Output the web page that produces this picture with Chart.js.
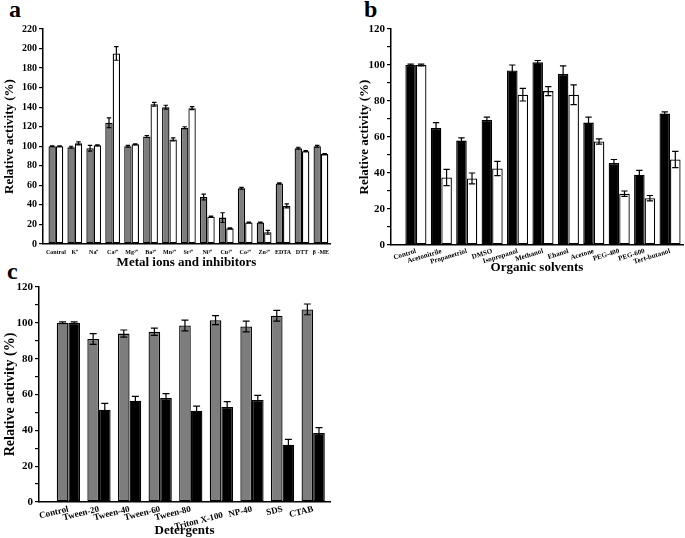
<!DOCTYPE html>
<html>
<head>
<meta charset="utf-8">
<script src="https://cdn.jsdelivr.net/npm/chart.js@4.4.0/dist/chart.umd.min.js"></script>
<style>
  body { margin:0; background:#fff; width:685px; height:538px; position:relative; overflow:hidden; font-family:"Liberation Serif", serif; }
  canvas { position:absolute; }
  .tag { position:absolute; font-weight:bold; font-size:24px; line-height:1; color:#000; }
</style>
</head>
<body>
<div class="tag" style="left:9px;top:-3px">a</div>
<div class="tag" style="left:364px;top:-3px">b</div>
<div class="tag" style="left:7px;top:259px">c</div>
<canvas id="chartA" width="340" height="270" style="left:0;top:0"></canvas>
<canvas id="chartB" width="345" height="275" style="left:340px;top:0"></canvas>
<canvas id="chartC" width="340" height="276" style="left:0;top:262px"></canvas>
<script>
// panel a - metal ions and inhibitors
const metalLabels = ['Control', 'K\u207A', 'Na\u207A', 'Ca\u00B2\u207A', 'Mg\u00B2\u207A', 'Ba\u00B2\u207A', 'Mn\u00B2\u207A', 'Sr\u00B2\u207A',
  'Ni\u00B2\u207A', 'Cu\u00B2\u207A', 'Co\u00B2\u207A', 'Zn\u00B2\u207A', 'EDTA', 'DTT', '\u03B2 -ME'];
const metalGray = [100, 99, 98, 124, 100, 110, 140, 119, 48, 27, 57, 22, 62, 98, 100];
const metalGrayErr = [0.5, 1, 3, 5, 1, 1, 2, 1, 3, 5, 1, 0.5, 0.5, 1, 1];
const metalWhite = [100, 103, 101, 195, 102, 143, 107, 139, 28, 16, 22, 12, 39, 95, 92];
const metalWhiteErr = [0.5, 1.5, 0.5, 7, 0.5, 2, 1.5, 1.5, 0.5, 0.5, 0.5, 2, 2, 0.5, 0.5];

// panel b - organic solvents
const solventLabels = ['Control', 'Acetonitrile', 'Propanetriol', 'DMSO', 'Isopropanol', 'Methanol', 'Ehanol',
  'Acetone', 'PEG-400', 'PEG-600', 'Tert-butanol'];
const solventBlack = [100, 65, 58, 69.5, 97, 101.5, 95, 68, 45.5, 39, 73];
const solventBlackErr = [0.5, 3, 1.5, 1.5, 3, 1, 4.5, 3, 2, 2.5, 1];
const solventWhite = [100, 37.5, 37, 42.5, 83.5, 85.5, 83.5, 57.5, 28.5, 26, 47.5];
const solventWhiteErr = [0.5, 4.5, 3, 4, 3.5, 2.5, 5.5, 1.5, 1.5, 1.5, 4.5];

// panel c - detergents (Triton label sits one line lower, as in the figure)
const detergentLabels = ['Control', 'Tween-20', 'Tween-40', 'Tween-60', 'Tween-80', ['', 'Triton X-100'], 'NP-40', 'SDS', 'CTAB'];
const detergentGray = [100, 91, 94, 95, 98.5, 101.5, 98, 104, 107.5];
const detergentGrayErr = [0.5, 3, 2, 2, 3, 2.5, 3, 3, 3];
const detergentBlack = [100, 51.5, 56.5, 58, 51, 53, 57, 32, 38.5];
const detergentBlackErr = [0.5, 3.5, 2.5, 2.5, 2.5, 3, 2.5, 3, 3];

const SERIF = '"Liberation Serif", "Times New Roman", serif';
const GRAY = '#7d7d7d';

const errorBars = {
  id: 'errorBars',
  afterDatasetsDraw(chart) {
    const ctx = chart.ctx, y = chart.scales.y;
    chart.data.datasets.forEach((ds, i) => {
      chart.getDatasetMeta(i).data.forEach((bar, j) => {
        const v = ds.data[j].y, e = ds.err[j];
        const top = y.getPixelForValue(v + e), bot = y.getPixelForValue(v - e);
        const half = bar.width * 0.3;
        ctx.save();
        ctx.strokeStyle = '#000';
        ctx.lineWidth = 1.2;
        ctx.beginPath();
        ctx.moveTo(bar.x, top); ctx.lineTo(bar.x, bot);
        ctx.moveTo(bar.x - half, top); ctx.lineTo(bar.x + half, top);
        ctx.moveTo(bar.x - half, bot); ctx.lineTo(bar.x + half, bot);
        ctx.stroke();
        ctx.restore();
      });
    });
  }
};

function panel(id, cfg) {
  new Chart(document.getElementById(id), {
    type: 'bar',
    data: {
      datasets: cfg.sets.map(s => ({
        data: s.vals.map((v, i) => ({ x: i, y: v })),
        err: s.err,
        backgroundColor: s.fill,
        borderColor: '#000',
        borderWidth: 1.3,
        borderSkipped: false,
        categoryPercentage: cfg.cat,
        barPercentage: 1
      }))
    },
    options: {
      responsive: false,
      animation: false,
      layout: { padding: cfg.pad },
      plugins: { legend: { display: false }, tooltip: { enabled: false } },
      scales: {
        x: {
          type: 'linear', offset: false, min: cfg.xmin, max: cfg.xmax,
          afterBuildTicks: s => { s.ticks = cfg.labels.map((_, i) => ({ value: i })); },
          afterFit: s => { s.height = cfg.xh; },
          grid: { display: false, drawTicks: false, tickLength: 0, offset: false },
          border: { color: '#000', width: 1.5 },
          ticks: {
            autoSkip: false, color: '#000', minRotation: cfg.rot, maxRotation: cfg.rot, padding: cfg.xpad,
            font: { family: SERIF, weight: 'bold', size: cfg.xfs, lineHeight: cfg.xlh || 1.2 },
            callback: v => cfg.labels[v] ?? ''
          },
          title: { display: true, text: cfg.xtitle, color: '#000', padding: 0,
            font: { family: SERIF, weight: 'bold', size: 13 } }
        },
        y: {
          min: 0, max: cfg.ymax,
          afterFit: s => { s.width = cfg.yw; },
          grid: { drawOnChartArea: false, drawTicks: true, tickLength: 4, color: '#000', lineWidth: 1.2 },
          border: { color: '#000', width: 1.5 },
          ticks: {
            stepSize: 10, color: '#000', padding: 2,
            font: { family: SERIF, weight: 'bold', size: cfg.yfs },
            callback: v => (v % 20 === 0 ? v : '')
          },
          title: { display: true, text: 'Relative activity (%)', color: '#000', padding: { top: cfg.ytp, bottom: 0 },
            font: { family: SERIF, weight: 'bold', size: cfg.tfs } }
        }
      }
    },
    plugins: [errorBars]
  });
}

panel('chartA', {
  labels: metalLabels,
  sets: [
    { vals: metalGray, err: metalGrayErr, fill: GRAY },
    { vals: metalWhite, err: metalWhiteErr, fill: '#fff' }
  ],
  cat: 0.78, xmin: -0.68, xmax: 14.48, ymax: 220,
  pad: { top: 29, right: 10, left: 0, bottom: 0 },
  xh: 26, yw: 43, rot: 0, xpad: 5, xfs: 6, yfs: 10, tfs: 13, ytp: 2,
  xtitle: 'Metal ions and inhibitors'
});

panel('chartB', {
  labels: solventLabels,
  sets: [
    { vals: solventBlack, err: solventBlackErr, fill: '#000' },
    { vals: solventWhite, err: solventWhiteErr, fill: '#fff' }
  ],
  cat: 0.83, xmin: -0.98, xmax: 10.51, ymax: 120,
  pad: { top: 29, right: 2, left: 0, bottom: 0 },
  xh: 30, yw: 51, rot: 17, xpad: 2, xfs: 7, yfs: 11, tfs: 13, ytp: 17,
  xtitle: 'Organic solvents'
});

panel('chartC', {
  labels: detergentLabels,
  sets: [
    { vals: detergentGray, err: detergentGrayErr, fill: GRAY },
    { vals: detergentBlack, err: detergentBlackErr, fill: '#000' }
  ],
  cat: 0.76, xmin: -0.96, xmax: 8.55, ymax: 120,
  pad: { top: 25, right: 10, left: 0, bottom: 0 },
  xh: 36, yw: 39, rot: 14, xpad: 4, xfs: 9, xlh: 0.7, yfs: 11, tfs: 14, ytp: 2,
  xtitle: 'Detergents'
});
</script>
</body>
</html>
